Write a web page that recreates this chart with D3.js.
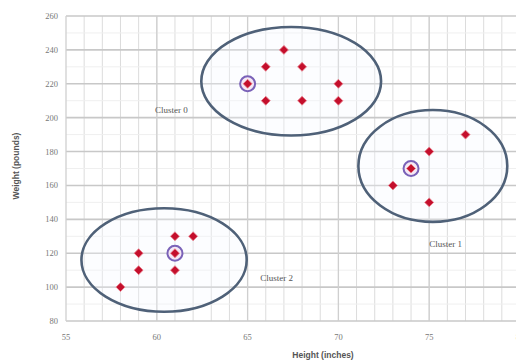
<!DOCTYPE html>
<html><head><meta charset="utf-8">
<script src="https://cdn.jsdelivr.net/npm/d3@7"></script>
<style>body{margin:0;background:#fff}svg{display:block}</style>
</head><body>
<svg id="c" width="516" height="360"></svg>
<script>
const xTicks = [55, 60, 65, 70, 75, 80];
const yTicks = [80, 100, 120, 140, 160, 180, 200, 220, 240, 260];
const pointsX = [66, 66, 67, 68, 68, 70, 70, 77, 75, 73, 75, 61, 62, 59, 59, 61, 58];
const pointsY = [230, 210, 240, 230, 210, 220, 210, 190, 180, 160, 150, 130, 130, 120, 110, 110, 100];
const centroidX = [65, 74, 61];
const centroidY = [220, 170, 120];
const clusterNames = ["Cluster 0", "Cluster 1", "Cluster 2"];
const ellipseCx = [67.4, 75.2, 60.4];
const ellipseCy = [221.5, 171.5, 116];
const ellipseRx = [4.95, 4.1, 4.55];
const ellipseRy = [32, 33, 30.5];
const labelX = [60.8, 75.9, 66.6];
const labelY = [204.5, 125.5, 105.5];

const svg = d3.select("#c");
const x = d3.scaleLinear().domain([55, 80]).range([66, 520]);
const y = d3.scaleLinear().domain([80, 260]).range([321, 16]);

const g = svg.append("g");
g.selectAll(".vx").data(d3.range(56, 80)).enter().append("line")
  .attr("x1", d => x(d)).attr("x2", d => x(d)).attr("y1", y(260)).attr("y2", y(80))
  .attr("stroke", "#dcdcdc").attr("stroke-width", 1);
g.selectAll(".hy").data(d3.range(90, 260, 20)).enter().append("line")
  .attr("x1", x(55)).attr("x2", x(80)).attr("y1", d => y(d)).attr("y2", d => y(d))
  .attr("stroke", "#efefef").attr("stroke-width", 1);
g.selectAll(".hm").data(yTicks).enter().append("line")
  .attr("x1", x(55)).attr("x2", x(80)).attr("y1", d => y(d)).attr("y2", d => y(d))
  .attr("stroke", "#c8c8c8").attr("stroke-width", 1.6);
g.selectAll(".vm").data(xTicks).enter().append("line")
  .attr("x1", d => x(d)).attr("x2", d => x(d)).attr("y1", y(260)).attr("y2", y(80))
  .attr("stroke", "#cfcfcf").attr("stroke-width", 1.3);

svg.selectAll(".yl").data(yTicks).enter().append("text")
  .attr("x", 58).attr("y", d => y(d) + 3).attr("text-anchor", "end")
  .attr("font-family", "Liberation Serif, serif").attr("font-size", 8.5).attr("fill", "#777")
  .text(d => d);
svg.selectAll(".xl").data(xTicks).enter().append("text")
  .attr("x", d => x(d)).attr("y", 340).attr("text-anchor", "middle")
  .attr("font-family", "Liberation Serif, serif").attr("font-size", 8.5).attr("fill", "#777")
  .text(d => d);

svg.append("text").attr("transform", "translate(19,166) rotate(-90)")
  .attr("text-anchor", "middle").attr("font-family", "Liberation Sans, sans-serif")
  .attr("font-size", 8.5).attr("font-weight", "bold").attr("fill", "#555").text("Weight (pounds)");
svg.append("text").attr("x", 323).attr("y", 358)
  .attr("text-anchor", "middle").attr("font-family", "Liberation Sans, sans-serif")
  .attr("font-size", 8.5).attr("font-weight", "bold").attr("fill", "#555").text("Height (inches)");

svg.selectAll(".el").data(ellipseCx).enter().append("ellipse")
  .attr("cx", (d, i) => x(d)).attr("cy", (d, i) => y(ellipseCy[i]))
  .attr("rx", (d, i) => x(d + ellipseRx[i]) - x(d))
  .attr("ry", (d, i) => y(ellipseCy[i] - ellipseRy[i]) - y(ellipseCy[i]))
  .attr("fill", "rgba(245,250,255,0.3)").attr("stroke", "#4f6178").attr("stroke-width", 2.6);

svg.selectAll(".cl").data(clusterNames).enter().append("text")
  .attr("x", (d, i) => x(labelX[i])).attr("y", (d, i) => y(labelY[i]) + 3)
  .attr("text-anchor", "middle").attr("font-family", "Liberation Serif, serif")
  .attr("font-size", 9).attr("fill", "#555").text(d => d);

svg.selectAll(".cr").data(centroidX).enter().append("circle")
  .attr("cx", d => x(d)).attr("cy", (d, i) => y(centroidY[i])).attr("r", 7.5)
  .attr("fill", "#f5e8f5").attr("stroke", "#7a62b8").attr("stroke-width", 2);

const sq = d3.symbol().type(d3.symbolSquare).size(40);
const allX = pointsX.concat(centroidX), allY = pointsY.concat(centroidY);
svg.selectAll(".pt").data(allX).enter().append("path")
  .attr("d", sq)
  .attr("transform", (d, i) => `translate(${x(d)},${y(allY[i])}) rotate(45)`)
  .attr("fill", "#c40f2c").attr("stroke", "#e8808c").attr("stroke-width", 0.8);
</script>
</body></html>
